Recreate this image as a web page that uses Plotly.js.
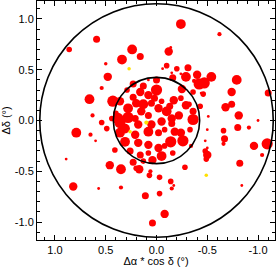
<!DOCTYPE html>
<html>
<head>
<meta charset="utf-8">
<script src="https://cdn.plot.ly/plotly-3.0.1.min.js"></script>
<style>html,body{margin:0;padding:0;background:#fff;}#plot{width:277px;height:267px;}</style>
</head>
<body>
<div id="plot"></div>
<script>
// Red sources: offsets (deg) and marker diameters
const redX = [0.59,0.86,0.34,0.24,0.50,0.48,0.54,0.66,0.43,0.23,0.28,0.63,0.54,0.49,0.31,0.79,0.40,
  -0.24,-0.62,-0.14,-0.12,0.16,-0.10,-0.20,-0.31,-0.15,-0.24,-0.29,-0.40,-0.54,-0.42,-0.47,-0.37,-0.79,-0.74,-0.46,-0.25,0.00,0.08,
  -1.10,-0.68,-0.74,-0.32,-0.81,-0.50,-0.66,-0.80,-0.91,-1.00,-0.36,-0.22,-0.17,0.00,0.13,
  0.65,0.60,0.89,0.46,0.35,0.82,0.57,0.35,0.23,-0.48,-0.67,-0.66,-0.50,-0.50,-0.49,-0.96,-1.09,-1.04,-0.82,-0.28,
  0.07,-0.03,-0.14,-0.17,-0.15,-0.84,0.11,-0.03,-0.08,0.04,0.17,0.04,-0.05,0.08,-0.14,-0.26,
  0.16,0.08,0.23,0.29,0.36,0.20,0.13,0.05,0.02,-0.02,0.28,0.15,0.08,0.44,0.38,0.21,
  -0.06,-0.16,-0.36,-0.44,-0.24,-0.05,-0.13,-0.29,-0.10,-0.36,-0.43,-0.15,-0.51,
  0.36,0.36,0.18,0.05,0.21,0.08,-0.02,0.31,0.18,-0.02,0.41,0.26,0.16,0.08,0.13,0.20,0.06,
  -0.05,-0.15,-0.08,-0.18,-0.24,-0.33,-0.08,-0.34,-0.48,-0.16];
const redY = [0.80,0.70,0.60,0.70,0.56,0.43,0.32,0.21,0.19,0.36,0.03,0.05,-0.02,-0.08,-0.08,-0.12,0.07,
  0.95,0.85,0.72,0.68,0.63,0.54,0.51,0.52,0.47,0.46,0.43,0.45,0.43,0.36,0.37,0.39,0.40,0.28,0.26,0.31,0.40,0.40,
  0.27,0.13,0.16,0.16,0.05,-0.09,-0.10,-0.07,-0.07,0.00,0.01,0.05,0.20,0.30,0.34,
  -0.14,-0.20,-0.38,-0.44,-0.48,-0.65,-0.67,-0.66,-0.41,-0.20,-0.18,-0.23,-0.27,-0.34,-0.38,-0.25,-0.23,-0.34,-0.42,-0.46,
  -0.54,-0.56,-0.60,-0.64,-0.67,-0.64,-0.74,-0.72,-0.92,-1.01,-0.48,-0.39,-0.35,-0.24,-0.21,-0.20,
  0.28,0.25,0.23,0.30,0.19,0.17,0.16,0.17,0.22,0.12,0.12,0.09,0.05,0.02,0.02,0.02,
  0.51,0.42,0.28,0.27,0.22,0.19,0.14,0.15,0.09,0.09,0.14,0.02,0.04,
  -0.02,-0.12,-0.04,-0.04,-0.14,-0.11,-0.12,-0.21,-0.22,-0.27,-0.29,-0.30,-0.34,-0.32,-0.40,-0.47,-0.50,
  -0.01,-0.03,-0.09,-0.11,-0.12,-0.09,-0.25,-0.25,-0.30,-0.32];
const redSize = [5,4,7,7,2.5,6,3,7,8,5,8,3,4,4,7,7,4,
  7,3,2,6,5,4,4,5,2,2,7,6,7,8,8,3,7,6,4,6,5,2,
  5,6,5,4,6,2,4,5,3,2,8,6,6,8,5,
  3,2,2,6,7,6,2,3,5,2,5,3,2,6,4,6,8,3,5,4,
  4,4,4,2,3,2,5,4,6,5,6,6,7,6,8,8,
  6,6,5,4,6,6,7,5,5,6,7,6,5,4,8,5,
  2,5,4,2,4,4,5,6,7,5,4,6,2,
  8,7,6,6,6,7,5,7,6,6,4,5,5,4,4,4,3,
  6,5,4,6,6,4,4,3,4,4];

// Yellow sources
const yelX = [0.27,0.10,0.26,-0.49];
const yelY = [0.51,-0.02,-0.11,-0.54];
const yelSize = [2.5,3,2.5,2.5];

// Circle radii (deg)
const outerR = 1.15;
const innerR = 0.425;

// Tick labels
const tickVals = [-1.0,-0.5,0.0,0.5,1.0];
const tickText = ['-1.0','-0.5','0.0','0.5','1.0'];

const grow = 1.4;
const traces = [
  {type:'scatter', mode:'markers', x:redX, y:redY,
   marker:{color:'#ff0000', opacity:1, size:redSize.map(s=>s*grow), line:{width:0}}, hoverinfo:'skip'},
  {type:'scatter', mode:'markers', x:yelX, y:yelY,
   marker:{color:'#ffe000', opacity:1, size:yelSize.map(s=>s*grow), line:{width:0}}, hoverinfo:'skip'}
];

const axisCommon = {
  showline:true, linecolor:'#000', linewidth:1, mirror:'ticks',
  ticks:'inside', ticklen:5, tickwidth:1, tickcolor:'#000',
  tickvals:tickVals, ticktext:tickText,
  minor:{ticks:'inside', ticklen:3, tickwidth:1, tickcolor:'#000', dtick:0.1, tick0:0},
  showgrid:false, zeroline:false,
  tickfont:{family:'Liberation Sans, Arial, sans-serif', size:11, color:'#000'}
};

const layout = {
  width:277, height:267,
  margin:{l:37, r:2, t:1, b:27},
  paper_bgcolor:'#fff', plot_bgcolor:'#fff',
  showlegend:false,
  font:{family:'Liberation Sans, Arial, sans-serif', size:11, color:'#000'},
  xaxis:Object.assign({}, axisCommon, {
    range:[1.177,-1.167],
    title:{text:'\u0394\u03b1 * cos \u03b4 (\u00b0)', font:{size:11}, standoff:1}
  }),
  yaxis:Object.assign({}, axisCommon, {
    range:[-1.177,1.177],
    title:{text:'\u0394\u03b4 (\u00b0)', font:{size:11}, standoff:4}
  }),
  shapes:[
    {type:'circle', xref:'x', yref:'y', x0:-outerR, x1:outerR, y0:-outerR, y1:outerR, line:{color:'#000', width:1.6}},
    {type:'circle', xref:'x', yref:'y', x0:-innerR, x1:innerR, y0:-innerR, y1:innerR, line:{color:'#000', width:1.6}}
  ]
};

Plotly.newPlot('plot', traces, layout, {staticPlot:true, displayModeBar:false});
</script>
</body>
</html>
